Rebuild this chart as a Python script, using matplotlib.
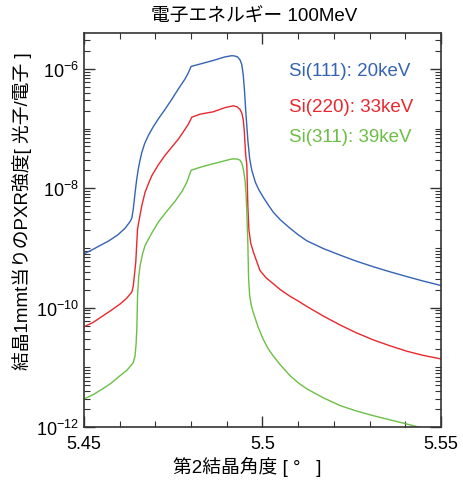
import numpy as np
import matplotlib
matplotlib.use('Agg')
import matplotlib.pyplot as plt
from matplotlib.ticker import LogLocator, FixedLocator, MultipleLocator, NullFormatter

plt.rcParams['font.family'] = ['Liberation Sans', 'Noto Sans CJK JP', 'DejaVu Sans']
plt.rcParams['mathtext.fontset'] = 'custom'
plt.rcParams['mathtext.rm'] = 'Liberation Sans'

# data (angle in degrees, log10 of intensity)
x_111 = [5.4500, 5.4520, 5.4545, 5.4570, 5.4595, 5.4615, 5.4629, 5.4634, 5.4638, 5.4643,
         5.4647, 5.4652, 5.4657, 5.4662, 5.4670, 5.4680, 5.4694, 5.4708, 5.4727, 5.4746,
         5.4764, 5.4783, 5.4792, 5.4800, 5.4825, 5.4862, 5.4895, 5.4914, 5.4922, 5.4930,
         5.4937, 5.4942, 5.4946, 5.4950, 5.4953, 5.4959, 5.4964, 5.4970, 5.4980, 5.4990,
         5.5002, 5.5015, 5.5030, 5.5050, 5.5077, 5.5100, 5.5124, 5.5170, 5.5217, 5.5262,
         5.5310, 5.5357, 5.5404, 5.5450, 5.5500]
logy_111 = [-9.10, -9.04, -8.96, -8.88, -8.78, -8.67, -8.56, -8.50, -8.35, -8.08,
            -7.88, -7.68, -7.53, -7.40, -7.25, -7.12, -6.97, -6.84, -6.68, -6.51,
            -6.34, -6.17, -6.07, -5.96, -5.92, -5.86, -5.80, -5.78, -5.785, -5.80,
            -5.85, -5.93, -6.10, -6.40, -6.70, -7.20, -7.50, -7.70, -7.90, -8.03,
            -8.15, -8.27, -8.40, -8.53, -8.67, -8.78, -8.88, -9.01, -9.12, -9.22,
            -9.315, -9.40, -9.48, -9.555, -9.63]

x_220 = [5.4500, 5.4525, 5.4550, 5.4575, 5.4601, 5.4620, 5.4634, 5.4638, 5.4645, 5.4648,
         5.4650, 5.4657, 5.4662, 5.4671, 5.4680, 5.4690, 5.4708, 5.4727, 5.4746, 5.4764,
         5.4780, 5.4792, 5.4802, 5.4825, 5.4862, 5.4895, 5.4918, 5.4928, 5.4937, 5.4942,
         5.4946, 5.4949, 5.4951, 5.4953, 5.4956, 5.4959, 5.4962, 5.4967, 5.4975, 5.4993,
         5.5010, 5.5030, 5.5050, 5.5077, 5.5100, 5.5124, 5.5170, 5.5217, 5.5262, 5.5310,
         5.5357, 5.5404, 5.5450, 5.5500]
logy_220 = [-10.32, -10.25, -10.15, -10.05, -9.94, -9.84, -9.74, -9.64, -9.24, -8.90,
            -8.68, -8.45, -8.29, -8.07, -7.93, -7.79, -7.61, -7.45, -7.31, -7.18,
            -7.04, -6.93, -6.81, -6.76, -6.72, -6.65, -6.62, -6.635, -6.68, -6.74,
            -6.85, -7.04, -7.25, -7.45, -7.60, -8.30, -8.70, -8.92, -9.08, -9.38,
            -9.50, -9.60, -9.70, -9.81, -9.89, -9.98, -10.14, -10.29, -10.42, -10.54,
            -10.64, -10.73, -10.80, -10.86]

x_311 = [5.4500, 5.4525, 5.4550, 5.4575, 5.4601, 5.4620, 5.4633, 5.4638, 5.4643, 5.4646,
         5.4648, 5.4650, 5.4653, 5.4657, 5.4664, 5.4671, 5.4690, 5.4708, 5.4730, 5.4755,
         5.4775, 5.4788, 5.4800, 5.4825, 5.4862, 5.4914, 5.4928, 5.4937, 5.4942, 5.4947,
         5.4951, 5.4954, 5.4956, 5.4959, 5.4961, 5.4964, 5.4969, 5.4974, 5.4988, 5.5002,
         5.5015, 5.5030, 5.5050, 5.5077, 5.5100, 5.5124, 5.5170, 5.5217, 5.5262, 5.5310,
         5.5357, 5.5404, 5.5470]
logy_311 = [-11.53, -11.46, -11.37, -11.27, -11.14, -11.05, -10.96, -10.92, -10.81, -10.60,
            -10.36, -9.80, -9.50, -9.30, -9.10, -8.96, -8.75, -8.57, -8.40, -8.22,
            -8.05, -7.90, -7.70, -7.65, -7.59, -7.51, -7.51, -7.53, -7.58, -7.70,
            -7.87, -8.10, -8.38, -8.93, -9.50, -9.80, -9.97, -10.08, -10.33, -10.53,
            -10.68, -10.81, -10.96, -11.14, -11.26, -11.36, -11.51, -11.64, -11.73, -11.81,
            -11.88, -11.95, -12.05]

labels = ['Si(111): 20keV', 'Si(220): 33keV', 'Si(311): 39keV']
colors = ['#3563b5', '#e8282e', '#6cbf45']

fig = plt.figure(figsize=(4.63, 4.81), dpi=100)
ax = fig.add_axes([84/463, 1 - 428/481, 357/463, 394/481])

for xs, ly, c in [(x_111, logy_111, colors[0]), (x_220, logy_220, colors[1]), (x_311, logy_311, colors[2])]:
    ax.plot(xs, 10.0 ** np.array(ly), color=c, lw=1.0)

ax.set_yscale('log')
ax.set_xlim(5.45, 5.55)
ax.set_ylim(1e-12, 10 ** -5.40)

ax.xaxis.set_major_locator(FixedLocator([5.45, 5.5, 5.55]))
ax.xaxis.set_minor_locator(MultipleLocator(0.01))
ax.set_xticklabels(['5.45', '5.5', '5.55'])
ax.yaxis.set_major_locator(FixedLocator([1e-12, 1e-10, 1e-8, 1e-6]))
ax.yaxis.set_minor_locator(LogLocator(base=10, subs=np.arange(1, 10), numticks=20))
ax.yaxis.set_minor_formatter(NullFormatter())

ax.tick_params(which='both', direction='in', top=True, right=True, color='#333333', labelsize=13)
ax.tick_params(which='major', length=8, width=1.0)
ax.tick_params(which='minor', length=4, width=0.8)
ax.tick_params(axis='x', which='major', pad=6)
for s in ax.spines.values():
    s.set_color('#333333')
    s.set_linewidth(1.2)

for lab, c, ypix in zip(labels, colors, [71, 108, 138]):
    fig.text(289 / 463, 1 - ypix / 481, lab, color=c, fontsize=13.5, va='center', ha='left')

fig.text(254 / 463, 1 - 17 / 481, '電子エネルギー 100MeV', fontsize=13.5, ha='center', va='center')
fig.text(247 / 463, 1 - 467 / 481, '第2結晶角度 [ °   ]', fontsize=13.5, ha='center', va='center')
fig.text(22 / 463, 1 - 211 / 481, '結晶1mmt当りのPXR強度[ 光子/電子 ]', fontsize=13.5,
         ha='center', va='center', rotation=90)

fig.savefig('out.png', dpi=100)
